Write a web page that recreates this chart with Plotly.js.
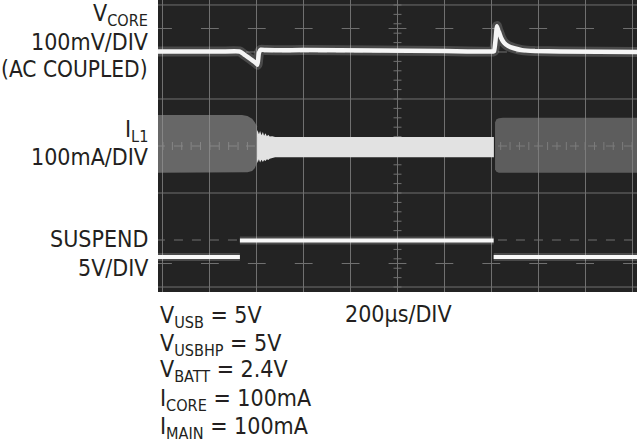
<!DOCTYPE html>
<html><head><meta charset="utf-8">
<script src="https://cdn.plot.ly/plotly-3.0.1.min.js"></script>
<style>html,body{margin:0;padding:0;background:#fff;}#chart{width:637px;height:444px;}</style>
</head><body><div id="chart"></div>
<script>
// ---- data (time in µs, 200 µs/DIV) ----
const vcoreTime = [-22, 100, 250, 328, 345, 362, 384, 397, 403, 409, 418, 440, 600, 900, 1200, 1407, 1412, 1418, 1424, 1430, 1433, 1441, 1454, 1471, 1497, 1531, 1586, 1693, 2022];
const vcoreMv   = [1, 1, 1, 1, -5, -11, -19, -24, -27, -2, 5, 4, 4, 3, 2, 1, 2, 25, 55, 45, 42, 31, 20, 13, 8, 4, 2, 1, 0];

const il1PreTime = [-22, 100, 250, 337, 360, 380, 392, 401];
const il1PreHi   = [66, 66, 66, 66, 64, 58, 50, 42];
const il1PreLo   = [-57, -57, -57, -57, -56, -53, -47, -36];

const il1SusTime = [401, 403, 409, 414, 420, 426, 431, 437, 443, 449, 455, 466, 478, 800, 1200, 1411];
const il1SusHi   = [30, 34, 25, 32, 23, 30, 22, 27, 21, 24, 20, 21, 19, 19, 19, 19];
const il1SusLo   = [-30, -36, -28, -35, -29, -34, -30, -32, -28, -30, -27, -26, -24, -24, -24, -24];

const il1PostTime = [1416, 1422, 1432, 1450, 1600, 1800, 2022];
const il1PostHi   = [50, 57, 59, 60, 60, 60, 60];
const il1PostLo   = [-50, -55, -57, -57, -57, -57, -57];

const suspendTime = [-22, 328, null, 328, 1410, null, 1410, 2022];
const suspendV    = [0, 0, null, 1.75, 1.75, null, 0, 0];

// channel settings: position (div) and scale (units/div)
const chVcore = {pos: 2.0, scale: 100};
const chIl1 = {pos: 0, scale: 100};
const chSusp = {pos: -2.36, scale: 5};
const toDiv = (arr, ch) => arr.map(v => v === null ? null : ch.pos + v / ch.scale);

const traces = [];
function band(t, hi, lo, color) {
  traces.push({x: t, y: toDiv(hi, chIl1), mode: 'lines', line: {width: 0, color: color}, hoverinfo: 'skip', showlegend: false});
  traces.push({x: t, y: toDiv(lo, chIl1), mode: 'lines', line: {width: 0, color: color}, fill: 'tonexty', fillcolor: color, hoverinfo: 'skip', showlegend: false});
}
band(il1PreTime, il1PreHi, il1PreLo, 'rgba(148,148,148,0.6)');
band(il1PostTime, il1PostHi, il1PostLo, 'rgba(132,132,132,0.6)');
band(il1SusTime, il1SusHi, il1SusLo, '#e2e2e2');

traces.push({x: vcoreTime, y: toDiv(vcoreMv, chVcore), mode: 'lines', line: {width: 10, color: 'rgba(255,255,255,0.18)', shape: 'spline', smoothing: 0.4}, hoverinfo: 'skip', showlegend: false});
traces.push({x: vcoreTime, y: toDiv(vcoreMv, chVcore), mode: 'lines', line: {width: 4.5, color: '#f5f5f5', shape: 'spline', smoothing: 0.4}, hoverinfo: 'skip', showlegend: false});
traces.push({x: suspendTime, y: toDiv(suspendV, chSusp), mode: 'lines', connectgaps: false, line: {width: 8, color: 'rgba(255,255,255,0.18)'}, hoverinfo: 'skip', showlegend: false});
traces.push({x: suspendTime, y: toDiv(suspendV, chSusp), mode: 'lines', connectgaps: false, line: {width: 4, color: '#f8f8f8'}, hoverinfo: 'skip', showlegend: false});

// ---- graticule ----
const gridCol = '#707070';
const shapes = [];
function seg(x0, x1, y0, y1, dash) {
  shapes.push({type: 'line', xref: 'x', yref: 'y', x0: x0, x1: x1, y0: y0, y1: y1, layer: 'below', line: {color: gridCol, width: 1, dash: dash || 'solid'}});
}
[-3, -1, 1, 3].forEach(k => seg(-30, 2030, k, k));
[-2, 0, 2].forEach(k => seg(-30, 2030, k, k, 'dash'));
for (let i = -15; i <= 15; i++) { if (i !== 0) seg(983, 1017, i * 0.2, i * 0.2); }
for (let j = 0; j <= 50; j++) seg(j * 40, j * 40, -0.085, 0.085);
for (let j = 0; j <= 10; j++) { seg(j * 200 - 38, j * 200 + 38, 2.5, 2.5); seg(j * 200 - 38, j * 200 + 38, -2.5, -2.5); }

// ---- text ----
const L = 158, T = 0, W = 479, H = 292;
const fam = '"DejaVu Sans Condensed", "Liberation Sans", Arial, sans-serif';
const leftLabels = [
  ['V<sub>CORE</sub>', 15, 23], ['100mV/DIV', 42, 23], ['(AC COUPLED)', 69, 22.5],
  ['I<sub>L1</sub>', 131, 23], ['100mA/DIV', 157, 23],
  ['SUSPEND', 239, 23], ['5V/DIV', 268, 23]
];
const bottomLabels = [
  ['V<sub>USB</sub> = 5V', 317], ['V<sub>USBHP</sub> = 5V', 345], ['V<sub>BATT</sub> = 2.4V', 371],
  ['I<sub>CORE</sub> = 100mA', 400], ['I<sub>MAIN</sub> = 100mA', 428]
];
const ann = [];
function addText(txt, px, py, anchor, size) {
  ann.push({text: txt, xref: 'paper', yref: 'paper', x: (px - L) / W, y: 1 - (py - T) / H,
    xanchor: anchor, yanchor: 'middle', showarrow: false, borderpad: 0,
    font: {family: fam, size: size || 23, color: '#231f20'}});
}
leftLabels.forEach(l => addText(l[0], 149, l[1], 'right', l[2]));
bottomLabels.forEach(l => addText(l[0], 159, l[1], 'left'));
addText('200µs/DIV', 344, 314, 'left');

const layout = {
  width: 637, height: 444,
  margin: {l: L, r: 637 - L - W, t: T, b: 444 - T - H, autoexpand: false},
  paper_bgcolor: '#ffffff', plot_bgcolor: '#232323',
  xaxis: {range: [-21.3, 2021.3], tick0: 0, dtick: 200, showgrid: true, gridcolor: gridCol, gridwidth: 1,
          zeroline: false, showticklabels: false, ticks: '', showline: false, fixedrange: true},
  yaxis: {range: [-3.106, 3.106], showgrid: false, zeroline: false, showticklabels: false, ticks: '', showline: false, fixedrange: true},
  shapes: shapes, annotations: ann, showlegend: false
};
Plotly.newPlot('chart', traces, layout, {staticPlot: true, displayModeBar: false});
</script></body></html>
